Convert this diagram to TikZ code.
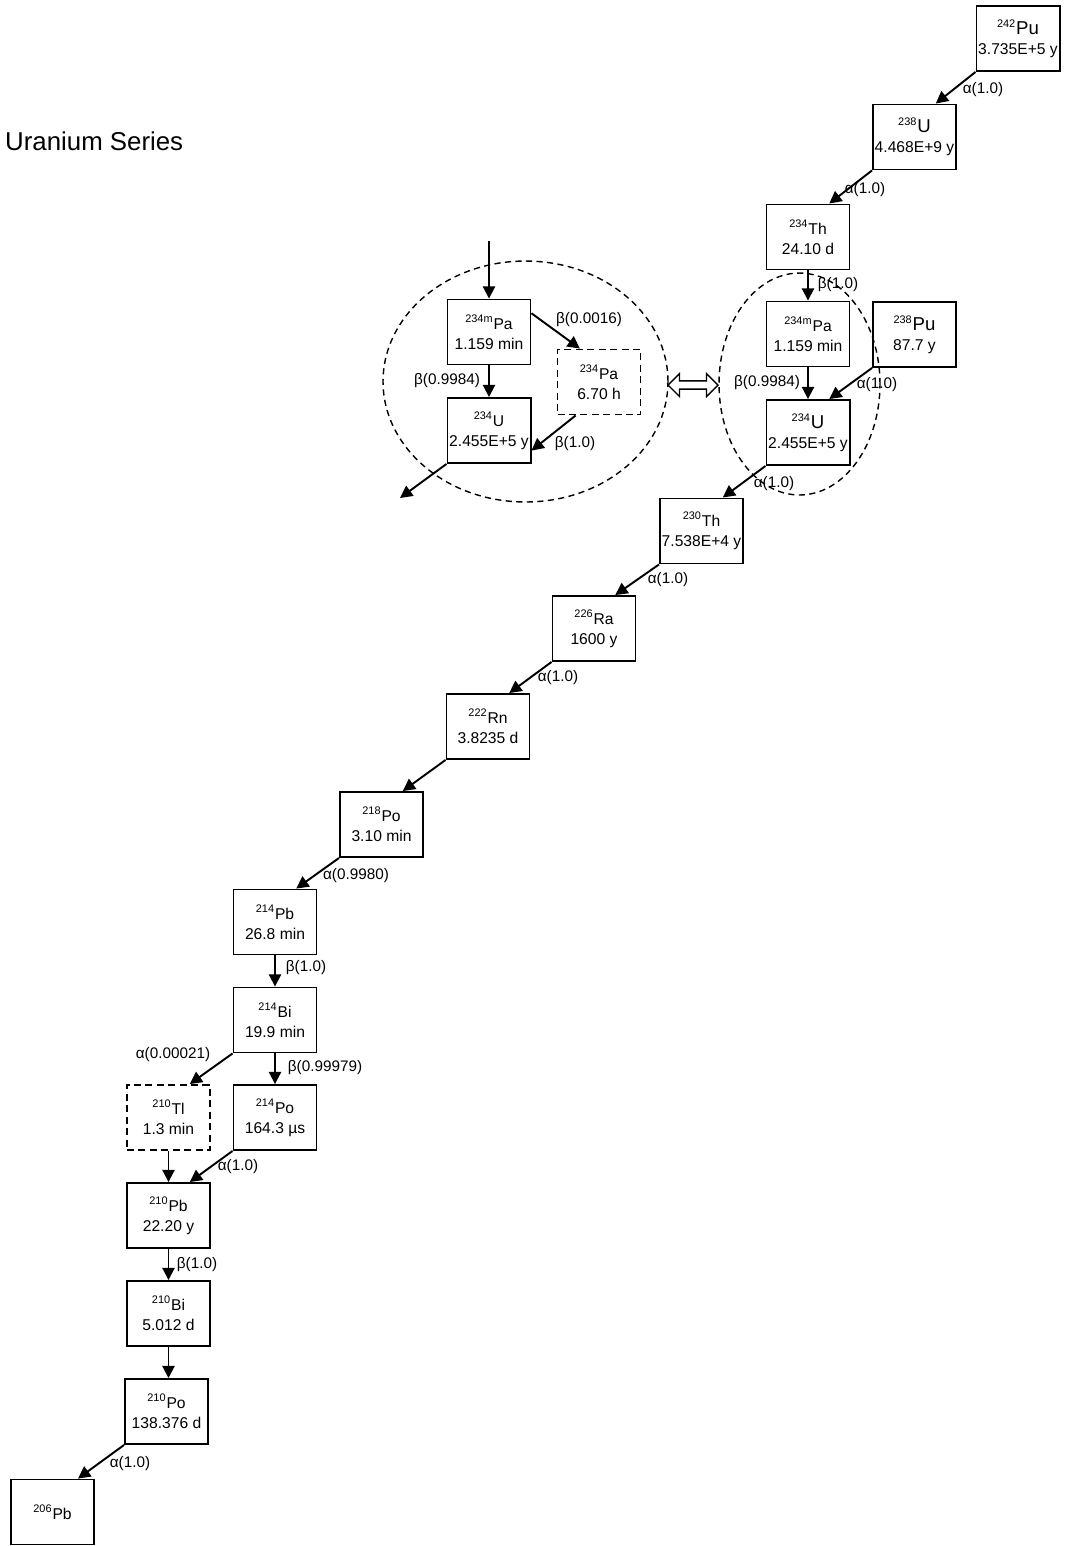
\documentclass[tikz,border=0pt]{standalone}
\usepackage{fontspec}
\setmainfont{Liberation Sans}
\usepackage{tikz}
\usetikzlibrary{calc,arrows.meta,shapes.arrows}

\begin{document}
\begin{tikzpicture}[
  x=0.02cm, y=-0.02cm,
  nuclide/.style={draw, line width=1.1pt, minimum width=1.66cm, minimum height=1.3cm,
    align=center, inner sep=1pt, font=\fontsize{8.9}{11.4}\selectfont},
  dnuclide/.style={nuclide, dash pattern=on 4pt off 2.5pt},
  decay/.style={-{Triangle[length=7pt, width=7pt]}, line width=1.1pt},
  branch/.style={font=\fontsize{8.7}{10}\selectfont, inner sep=0pt},
  group/.style={dash pattern=on 3.5pt off 2.5pt, line width=0.8pt}
]
  \useasboundingbox (0,0) rectangle (1066,1546);

  \newcommand{\iso}[2]{\textsuperscript{#1}#2}
  \newcommand{\bigiso}[2]{\textsuperscript{#1}{\fontsize{10.6}{11.4}\selectfont #2}}

  % title
  \node[anchor=west, font=\fontsize{14.7}{16}\selectfont] (title) at (-1,141) {Uranium Series};

  % main chain
  \node[nuclide] (Pu242) at (1018,38.5) {\bigiso{242}{Pu}\\3.735E+5 y};
  \node[nuclide] (U238) at (914.5,137) {\bigiso{238}{U}\\4.468E+9 y};
  \node[nuclide] (Th234) at (808,237) {\iso{234}{Th}\\24.10 d};
  \node[nuclide] (PamR) at (808,334) {\iso{234m}{Pa}\\1.159 min};
  \node[nuclide] (Pu238) at (914.5,334.5) {\bigiso{238}{Pu}\\87.7 y};
  \node[nuclide] (U234R) at (808,432.5) {\bigiso{234}{U}\\2.455E+5 y};
  \node[nuclide] (Th230) at (701.5,531) {\iso{230}{Th}\\7.538E+4 y};
  \node[nuclide] (Ra226) at (594,628.5) {\iso{226}{Ra}\\1600 y};
  \node[nuclide] (Rn222) at (488,726.5) {\iso{222}{Rn}\\3.8235 d};
  \node[nuclide] (Po218) at (381.5,824.5) {\iso{218}{Po}\\3.10 min};
  \node[nuclide] (Pb214) at (275,922) {\iso{214}{Pb}\\26.8 min};
  \node[nuclide] (Bi214) at (275,1020) {\iso{214}{Bi}\\19.9 min};
  \node[dnuclide] (Tl210) at (168.5,1117.5) {\iso{210}{Tl}\\1.3 min};
  \node[nuclide] (Po214) at (275,1117.5) {\iso{214}{Po}\\164.3 µs};
  \node[nuclide] (Pb210) at (168.5,1215.5) {\iso{210}{Pb}\\22.20 y};
  \node[nuclide] (Bi210) at (168.5,1313.5) {\iso{210}{Bi}\\5.012 d};
  \node[nuclide] (Po210) at (166.5,1411.5) {\iso{210}{Po}\\138.376 d};
  \node[nuclide] (Pb206) at (52.5,1512) {\iso{206}{Pb}};

  % detail of the 234mPa branch
  \node[nuclide] (PamL) at (489,332) {\iso{234m}{Pa}\\1.159 min};
  \node[dnuclide] (PaL) at (599,382) {\iso{234}{Pa}\\6.70 h};
  \node[nuclide] (U234L) at (489,430.5) {\iso{234}{U}\\2.455E+5 y};
  \coordinate (inL) at (489,241);
  \coordinate (outL) at (400,498);

  \draw[group] (525.5,381.5) ellipse [x radius=2.85cm, y radius=2.41cm];
  \draw[group] (799.5,384) ellipse [x radius=1.61cm, y radius=2.22cm];
  \node[draw, double arrow, line width=0.8pt, minimum height=1cm, minimum width=0.46cm,
    double arrow head extend=0.07cm, inner sep=0.7pt] (same) at (693,385) {};

  % decays
  \draw[decay] (Pu242.south west) -- ($(U238.north)!0.5!(U238.north east)$);
  \draw[decay] (U238.south west) -- ($(Th234.north)!0.5!(Th234.north east)$);
  \draw[decay] (Th234.south) -- (PamR.north);
  \draw[decay] (PamR.south) -- (U234R.north);
  \draw[decay] (Pu238.south west) -- ($(U234R.north)!0.5!(U234R.north east)$);
  \draw[decay] (U234R.south west) -- ($(Th230.north)!0.5!(Th230.north east)$);
  \draw[decay] (Th230.south west) -- ($(Ra226.north)!0.5!(Ra226.north east)$);
  \draw[decay] (Ra226.south west) -- ($(Rn222.north)!0.5!(Rn222.north east)$);
  \draw[decay] (Rn222.south west) -- ($(Po218.north)!0.5!(Po218.north east)$);
  \draw[decay] (Po218.south west) -- ($(Pb214.north)!0.5!(Pb214.north east)$);
  \draw[decay] (Pb214.south) -- (Bi214.north);
  \draw[decay] (Bi214.south west) -- ($(Tl210.north)!0.5!(Tl210.north east)$);
  \draw[decay] (Bi214.south) -- (Po214.north);
  \draw[decay] (Tl210.south) -- (Pb210.north);
  \draw[decay] (Po214.south west) -- ($(Pb210.north)!0.5!(Pb210.north east)$);
  \draw[decay] (Pb210.south) -- (Bi210.north);
  \draw[decay] (Bi210.south) -- (Bi210.south |- Po210.north);
  \draw[decay] (Po210.south west) -- ($(Pb206.north)!0.6!(Pb206.north east)$);

  \draw[decay] (inL) -- (PamL.north);
  \draw[decay] (PamL.south) -- (U234L.north);
  \draw[decay] ($(PamL.north east)!0.22!(PamL.south east)$) -- ($(PaL.north)!0.45!(PaL.north west)$);
  \draw[decay] ($(PaL.south)!0.55!(PaL.south west)$) -- ($(U234L.north east)!0.8!(U234L.south east)$);
  \draw[decay] (U234L.south west) -- (outL);

  % branching ratios
  \node[branch] (bPu242) at (983,90) {α(1.0)};
  \node[branch] (bU238) at (865,190) {α(1.0)};
  \node[branch] (bTh234) at (838,285) {β(1.0)};
  \node[branch] (bPamR) at (767,383) {β(0.9984)};
  \node[branch] (bPu238) at (877,385) {α(1.0)};
  \node[branch] (bU234R) at (774,484) {α(1.0)};
  \node[branch] (bTh230) at (668,580) {α(1.0)};
  \node[branch] (bRa226) at (558,678) {α(1.0)};
  \node[branch] (bPo218) at (356,876) {α(0.9980)};
  \node[branch] (bPb214) at (306,968) {β(1.0)};
  \node[branch] (bBiTl) at (173,1055) {α(0.00021)};
  \node[branch] (bBiPo) at (325,1068) {β(0.99979)};
  \node[branch] (bPo214) at (238,1167) {α(1.0)};
  \node[branch] (bPb210) at (197,1265) {β(1.0)};
  \node[branch] (bPo210) at (130,1464) {α(1.0)};
  \node[branch] (bPamPa) at (589,320) {β(0.0016)};
  \node[branch] (bPamU) at (447,381) {β(0.9984)};
  \node[branch] (bPaU) at (575,444) {β(1.0)};
\end{tikzpicture}
\end{document}
